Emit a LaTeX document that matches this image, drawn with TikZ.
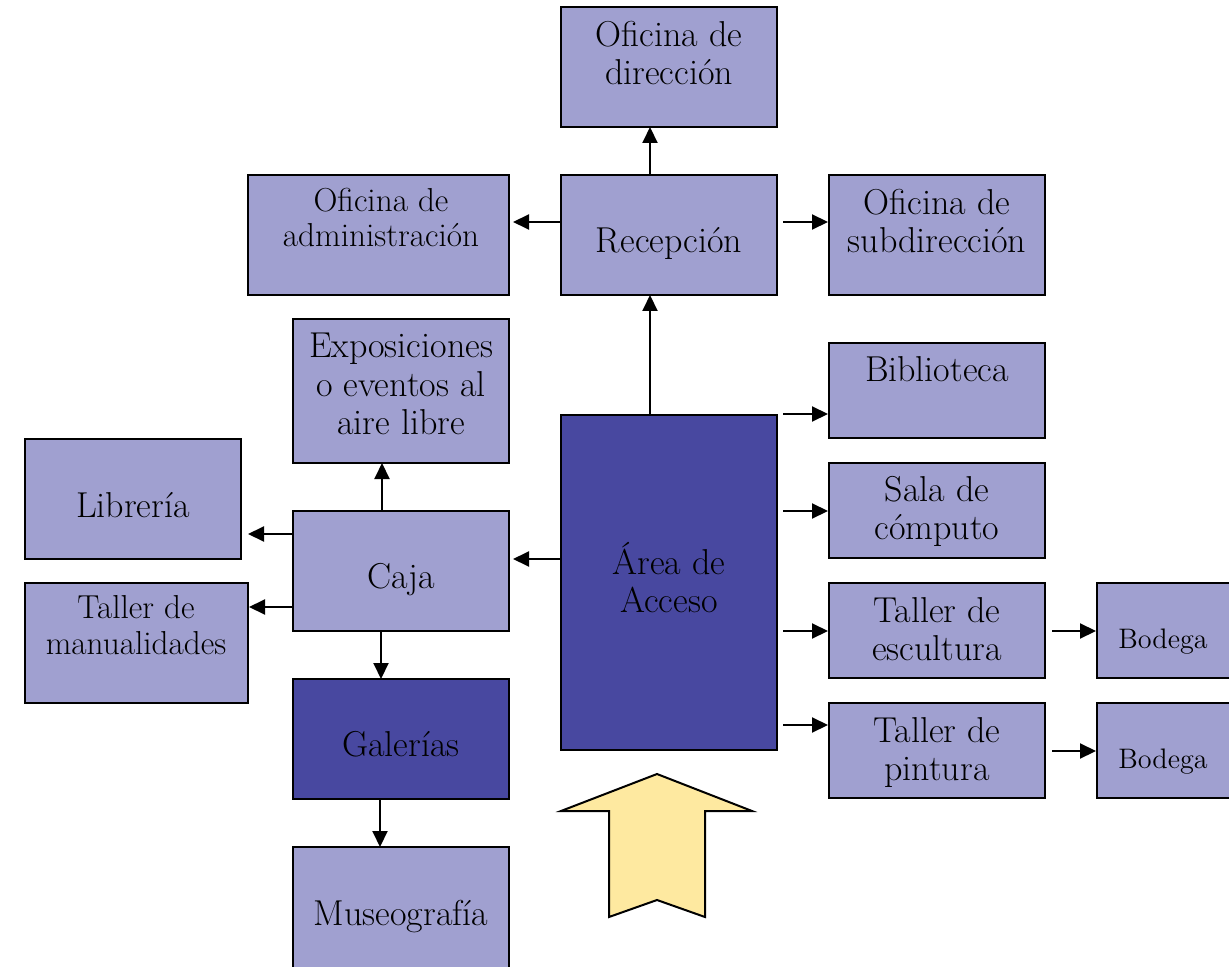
\documentclass[tikz,border=0pt]{standalone}
\usetikzlibrary{arrows.meta,calc,fit}
\definecolor{lightbox}{RGB}{160,160,208}
\definecolor{darkbox}{RGB}{72,72,160}
\definecolor{yel}{RGB}{254,233,160}
\begin{document}
\begin{tikzpicture}[x=0.5pt,y=-0.5pt,
  box/.style={draw=black,line width=1pt,fill=lightbox,inner sep=0pt,outer sep=0pt},
  dbox/.style={box,fill=darkbox},
  lbl/.style={anchor=base,align=center,inner sep=0pt,font=\fontsize{18}{19}\selectfont},
  mlbl/.style={lbl,font=\fontsize{16.6}{17.6}\selectfont},
  slbl/.style={lbl,font=\fontsize{14.1}{16}\selectfont},
  arr/.style={line width=1pt,-{Triangle[length=8pt,width=7.5pt]}}]
\useasboundingbox (0,0) rectangle (1229,967);
\fill[white] (0,0) rectangle (1229,967);
\clip (0,0) rectangle (1229,967);

% boxes
\node[box,fit={(561,7)(777,127)}] (dir) {};
\node[box,fit={(561,175)(777,295)}] (recep) {};
\node[box,fit={(248,175)(509,295)}] (admin) {};
\node[box,fit={(829,175)(1045,295)}] (subdir) {};
\node[box,fit={(293,319)(509,463)}] (expo) {};
\node[box,fit={(829,343)(1045,438)}] (biblio) {};
\node[box,fit={(25,439)(241,559)}] (libr) {};
\node[dbox,fit={(561,415)(777,750)}] (area) {};
\node[box,fit={(829,463)(1045,558)}] (sala) {};
\node[box,fit={(293,511)(509,631)}] (caja) {};
\node[box,fit={(25,583)(248,703)}] (manual) {};
\node[box,fit={(829,583)(1045,678)}] (escult) {};
\node[box,fit={(1097,583)(1245,678)}] (bodA) {};
\node[dbox,fit={(293,679)(509,799)}] (galer) {};
\node[box,fit={(829,703)(1045,798)}] (pint) {};
\node[box,fit={(1097,703)(1245,798)}] (bodB) {};
\node[box,fit={(293,847)(509,985)}] (museo) {};

% labels (anchor=base = baseline of the last line)
\node[lbl] (dirT) at (669,85) {Oficina de\\dirección};
\node[lbl] (recepT) at (669,253) {Recepción};
\node[mlbl] (adminT) at (381,247) {Oficina de\\administración};
\node[lbl] (subdirT) at (937,253) {Oficina de\\subdirección};
\node[lbl] (expoT) at (401,434) {Exposiciones\\o eventos al\\aire libre};
\node[lbl] (biblioT) at (937,381) {Biblioteca};
\node[lbl] (librT) at (133,517) {Librería};
\node[lbl] (areaT) at (669,612) {Área de\\Acceso};
\node[lbl] (salaT) at (937,539) {Sala de\\cómputo};
\node[lbl] (cajaT) at (401,588) {Caja};
\node[mlbl] (manualT) at (136,654) {Taller de\\manualidades};
\node[lbl] (escultT) at (937,660) {Taller de\\escultura};
\node[slbl] (bodAT) at (1163,648) {Bodega};
\node[lbl] (galerT) at (401,756) {Galerías};
\node[lbl] (pintT) at (937,780) {Taller de\\pintura};
\node[slbl] (bodBT) at (1163,768) {Bodega};
\node[lbl] (museoT) at (401,925) {Museografía};

% connectors
\draw[arr] ($(recep.north)+(-19,0)$) -- ($(dir.south)+(-19,0)$);
\draw[arr] ($(recep.west)+(0,-13)$) -- ($(admin.east)+(4,-13)$);
\draw[arr] ($(recep.east)+(6,-13)$) -- ($(subdir.west)+(-1,-13)$);
\draw[arr] ($(area.north)+(-19,0)$) -- ($(recep.south)+(-19,0)$);
\coordinate (a1) at ($(area.north east)+(6,-1)$);
\draw[arr] (a1) -- ($(a1 -| biblio.west)+(-1,0)$);
\coordinate (a2) at ($(area.north east)+(6,96)$);
\draw[arr] (a2) -- ($(a2 -| sala.west)+(-1,0)$);
\coordinate (a3) at ($(area.north east)+(6,216)$);
\draw[arr] (a3) -- ($(a3 -| escult.west)+(-1,0)$);
\coordinate (a4) at ($(area.north east)+(6,310)$);
\draw[arr] (a4) -- ($(a4 -| pint.west)+(-1,0)$);
\coordinate (e1) at ($(escult.east)+(7,0.5)$);
\draw[arr] (e1) -- ($(e1 -| bodA.west)+(-1,0)$);
\coordinate (p1) at ($(pint.east)+(7,0.5)$);
\draw[arr] (p1) -- ($(p1 -| bodB.west)+(-1,0)$);
\coordinate (c0) at ($(area.north west)+(0,144)$);
\draw[arr] (c0) -- ($(c0 -| caja.east)+(4,0)$);
\draw[arr] ($(caja.north)+(-19,0)$) -- ($(expo.south)+(-19,0)$);
\coordinate (c1) at ($(caja.north west)+(0,23)$);
\draw[arr] (c1) -- ($(c1 -| libr.east)+(7,0)$);
\coordinate (c2) at ($(caja.north west)+(0,96)$);
\draw[arr] (c2) -- ($(c2 -| manual.east)+(1,0)$);
\draw[arr] ($(caja.south)+(-20,0)$) -- ($(galer.north)+(-20,0)$);
\draw[arr] ($(galer.south)+(-21,0)$) -- ($(museo.north)+(-21,0)$);

% entrance arrow
\filldraw[fill=yel,draw=black,line width=1pt,line join=miter]
  (657,774) -- (752,811) -- (705,811) -- (705,917) -- (657,900)
  -- (609,917) -- (609,811) -- (561,811) -- cycle;
\end{tikzpicture}
\end{document}
